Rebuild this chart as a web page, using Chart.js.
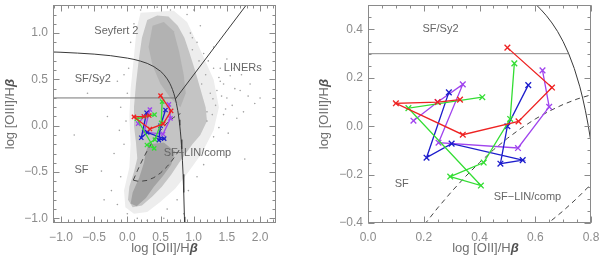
<!DOCTYPE html>
<html><head><meta charset="utf-8">
<script src="https://cdn.jsdelivr.net/npm/chart.js@4.4.0/dist/chart.umd.min.js"></script>
<style>
html,body{margin:0;padding:0;background:#fff;}
#wrap{position:relative;width:600px;height:259px;overflow:hidden;}
canvas{position:absolute;top:0;}
</style></head><body>
<div id="wrap"><canvas id="cL" width="300" height="259" style="left:0"></canvas><canvas id="cR" width="300" height="259" style="left:300px"></canvas></div>
<script>
// ---------- tracks (shared by both panels) ----------
const redX    = [0.33, 0.25, 0.10, 0.34, 0.54, 0.66, 0.50];
const redY    = [0.11, 0.10, 0.095, -0.035, 0.02, 0.16, 0.325];
const greenX  = [0.41, 0.145, 0.405, 0.295, 0.415, 0.51, 0.525];
const greenY  = [0.12, 0.075, -0.245, -0.208, -0.15, 0.03, 0.26];
const blueX   = [0.575, 0.50, 0.475, 0.555, 0.30, 0.21, 0.29];
const blueY   = [0.17, 0.0, -0.155, -0.14, -0.072, -0.13, 0.14];
const purpleX = [0.626, 0.65, 0.538, 0.253, 0.34, 0.25, 0.163];
const purpleY = [0.231, 0.08, -0.09, -0.068, 0.173, 0.10, 0.023];

// ---------- demarcation lines ----------
const agnX = [-1.15,-1.0,-0.75,-0.5,-0.25,0.0,0.1,0.2,0.3,0.4,0.5,0.55,0.6,0.62,0.64,0.66,0.68,0.70,0.72,0.74,0.76,0.77,0.78,0.79,0.80,0.81,0.82,0.83,0.84,0.85,0.86,0.865];
const agnY = [0.797,0.793,0.784,0.773,0.756,0.730,0.716,0.697,0.673,0.638,0.588,0.553,0.506,0.483,0.457,0.427,0.392,0.350,0.300,0.239,0.163,0.117,0.064,0.004,-0.067,-0.150,-0.250,-0.372,-0.525,-0.721,-0.983,-1.15];
const linerX = [0.725, 1.85];
const linerY = [0.289, 1.358];
const sfsyLeftX = [-1.2, 0.72];
const sfsyRightX = [0.0, 0.72];
const sfsyY = [0.3, 0.3];
const compUpX = [0.09,0.15,0.2,0.25,0.3,0.35,0.4,0.45,0.5,0.55,0.6,0.65,0.7,0.75,0.8];
const compUpY = [-0.587,-0.4875,-0.41,-0.3375,-0.27,-0.2075,-0.15,-0.0975,-0.05,-0.0075,0.03,0.0625,0.09,0.1125,0.13];
const compLoX = [0.09,0.15,0.2,0.3,0.4,0.5,0.6,0.65,0.7,0.75,0.8,0.815];
const compLoY = [-0.588,-0.5975,-0.6,-0.59,-0.56,-0.51,-0.44,-0.3975,-0.35,-0.2975,-0.24,-0.222];

// ---------- galaxy cloud (left panel), read as density outlines + sparse dots ----------
const hazeX = [0.2,0.7,0.9,1.08,1.3,1.38,1.3,1.12,0.92,0.72,0.5,0.3,0.1,-0.03,-0.05,0.03,0.05,0.03,0.05,0.1,0.14,0.2];
const hazeY = [1.22,1.24,1.12,0.85,0.5,0.2,-0.05,-0.3,-0.5,-0.68,-0.82,-0.93,-0.95,-0.88,-0.7,-0.45,-0.2,0.1,0.4,0.75,1.05,1.22];
const midX = [0.30,0.45,0.62,0.76,0.86,0.93,1.02,1.10,1.18,1.20,1.10,0.98,0.88,0.78,0.66,0.52,0.38,0.22,0.08,0.01,0.03,0.10,0.15,0.13,0.10,0.10,0.13,0.17,0.22,0.30];
const midY = [1.14,1.19,1.18,1.08,0.95,0.80,0.60,0.40,0.20,0.05,-0.10,-0.20,-0.30,-0.40,-0.53,-0.66,-0.76,-0.86,-0.88,-0.80,-0.66,-0.50,-0.35,-0.18,0.00,0.20,0.45,0.70,0.95,1.14];
const coreUpX = [0.38,0.55,0.70,0.78,0.85,0.88,0.80,0.65,0.50,0.38,0.32,0.38];
const coreUpY = [1.08,1.12,1.02,0.80,0.55,0.35,0.20,0.30,0.45,0.65,0.85,1.08];
const tailX = [0.32,0.55,0.72,0.66,0.54,0.40,0.28,0.14,0.05,0.08,0.18,0.25,0.28,0.32];
const tailY = [-0.20,-0.18,-0.28,-0.42,-0.54,-0.66,-0.78,-0.87,-0.84,-0.72,-0.56,-0.40,-0.28,-0.20];
const dotX = [0.95,1.05,0.98,1.15,1.22,1.3,1.18,1.38,1.45,1.55,1.62,1.72,1.4,1.29,1.5,1.58,1.82,1.92,1.75,1.65,1.45,1.38,1.52,1.3,1.25,1.15,1.05,0.92,1.77,1.1,0.9,1.0,1.3,1.5,1.35,1.2,1.6,1.85,1.7,2.0,
  -0.05,-0.15,0.0,-0.1,0.02,-0.02,-0.12,-0.05,-0.2,-0.39,-0.24,-0.1,0.0,0.15,0.3,0.05,0.1,0.2,0.45,0.65,-0.3,-0.45,-0.6,0.6,0.75,0.85,0.55,-0.15,-0.35,-0.8,
  1.12,1.25,1.33,1.42,1.2,1.28,1.08,0.98,1.4,1.48];
const dotY = [1.0,0.9,0.82,0.78,0.7,0.62,0.55,0.52,0.45,0.54,0.4,0.55,0.48,0.29,0.3,0.22,0.32,0.24,0.15,0.08,0.12,-0.02,-0.08,-0.12,-0.3,-0.42,-0.55,-0.7,-0.36,1.08,1.2,1.25,0.85,0.72,0.38,0.15,0.62,0.45,0.38,0.3,
  0.55,0.48,0.35,0.2,0.62,0.05,-0.05,-0.2,-0.3,-0.49,-0.7,-0.55,-0.95,-1.0,-1.02,0.9,1.1,1.25,1.28,1.25,0.1,0.5,0.35,-0.9,-0.8,-0.95,-1.0,-0.85,-0.8,-0.1,
  0.45,0.35,0.22,0.32,0.05,0.12,0.7,0.95,0.62,0.18];

// ---------- axes ----------
const leftXTicks = [-1.0,-0.5,0.0,0.5,1.0,1.5,2.0];
const leftYTicks = [-1.0,-0.5,0.0,0.5,1.0];
const rightXTicks = [0.0,0.2,0.4,0.6,0.8];
const rightYTicks = [-0.4,-0.2,0.0,0.2,0.4];

Chart.defaults.font.family = "'Liberation Sans', Arial, sans-serif";
Chart.defaults.animation = false;

const zip = (xs, ys) => xs.map((v, i) => ({x: v, y: ys[i]}));
const fmt = v => (v < -1e-9 ? '\u2212' : '') + Math.abs(v).toFixed(1);

function axes(xr, yr, xt, yt, yw) {
  return {
    x: {type:'linear', min:xr[0], max:xr[1], position:'bottom',
      afterBuildTicks: s => { s.ticks = xt.map(v => ({value:v})); },
      afterFit: s => { s.height = 36; s.paddingLeft = 0; s.paddingRight = 0; },
      grid:{display:false, drawTicks:false}, border:{display:false},
      ticks:{autoSkip:false, maxRotation:0, padding:7, color:'#8c8c8c', font:{size:12}, callback: v => fmt(v)}},
    y: {type:'linear', min:yr[0], max:yr[1],
      afterBuildTicks: s => { s.ticks = yt.map(v => ({value:v})); },
      afterFit: s => { s.width = yw; s.paddingTop = 0; s.paddingBottom = 0; },
      grid:{display:false, drawTicks:false}, border:{display:false},
      ticks:{autoSkip:false, padding:5, color:'#8c8c8c', font:{size:12}, callback: v => fmt(v)}}
  };
}

function track(xs, ys, color, r) {
  return {data: zip(xs, ys), showLine:true, borderColor:color, borderWidth:1.3,
    pointStyle:'crossRot', pointRadius:r, pointBorderColor:color, pointBorderWidth:1.3,
    backgroundColor:color, order:1, clip:false};
}
function curve(xs, ys, color, dash) {
  return {data: zip(xs, ys), showLine:true, borderColor:color, borderWidth:1,
    borderDash: dash || [], pointRadius:0, order:3};
}
function poly(xs, ys, color, ord) {
  return {data: zip(xs, ys), showLine:true, fill:'shape', backgroundColor:color,
    borderColor:'rgba(0,0,0,0)', borderWidth:0, pointRadius:0, order:ord};
}

function minorList(lo, hi, step) {
  const out = [];
  for (let v = Math.ceil(lo / step - 1e-6) * step; v <= hi + 1e-9; v += step) out.push(+v.toFixed(4));
  return out;
}

const framePlugin = {
  id: 'frame',
  afterDatasetsDraw(chart, args, o) {
    const {ctx, chartArea: a, scales: {x, y}} = chart;
    ctx.save();
    ctx.strokeStyle = '#8a8a8a'; ctx.lineWidth = 1;
    const L = Math.round(a.left) + 0.5, R = Math.round(a.right) - 0.5;
    const T = Math.round(a.top) + 0.5, B = Math.round(a.bottom) - 0.5;
    ctx.strokeRect(L, T, R - L, B - T);
    ctx.beginPath();
    const tickX = (v, len) => { const p = Math.round(x.getPixelForValue(v)) + 0.5;
      ctx.moveTo(p, B); ctx.lineTo(p, B - len); ctx.moveTo(p, T); ctx.lineTo(p, T + len); };
    const tickY = (v, len) => { const p = Math.round(y.getPixelForValue(v)) + 0.5;
      ctx.moveTo(L, p); ctx.lineTo(L + len, p); ctx.moveTo(R, p); ctx.lineTo(R - len, p); };
    minorList(x.min, x.max, o.xMinor).forEach(v => tickX(v, 3));
    minorList(y.min, y.max, o.yMinor).forEach(v => tickY(v, 3));
    o.xMajor.forEach(v => tickX(v, 6));
    o.yMajor.forEach(v => tickY(v, 6));
    ctx.stroke();
    // region labels
    ctx.fillStyle = '#666666';
    ctx.font = "11px 'Liberation Sans', Arial, sans-serif";
    ctx.textAlign = 'center'; ctx.textBaseline = 'middle';
    o.labels.forEach(l => ctx.fillText(l.t, x.getPixelForValue(l.x), y.getPixelForValue(l.y)));
    // axis titles
    const cx = (a.left + a.right) / 2 + o.xTitleShift;
    drawTitle(ctx, cx, 248, 'log [OII]/H', false);
    drawTitle(ctx, o.yTitleX, (a.top + a.bottom) / 2, 'log [OIII]/H', true);
    ctx.restore();
  }
};
function drawTitle(ctx, cx, cy, main, rot) {
  ctx.save();
  ctx.translate(cx, cy);
  if (rot) ctx.rotate(-Math.PI / 2);
  const f1 = "13px 'Liberation Sans', Arial, sans-serif";
  const f2 = "italic bold 13px 'Liberation Sans', Arial, sans-serif";
  ctx.font = f1; const w1 = ctx.measureText(main).width;
  ctx.font = f2; const w2 = ctx.measureText('\u03B2').width;
  const start = -(w1 + w2) / 2;
  ctx.fillStyle = '#707070'; ctx.textBaseline = 'middle'; ctx.textAlign = 'left';
  ctx.font = f1; ctx.fillText(main, start, 0);
  ctx.font = f2; ctx.fillStyle = '#505050'; ctx.fillText('\u03B2', start + w1, 0);
  ctx.restore();
}

const RED = '#ee2222', GREEN = '#33dd33', BLUE = '#1c1ccc', PURPLE = '#a044ee';
const common = {responsive:false, animation:false, events:[],
  plugins:{legend:{display:false}, tooltip:{enabled:false}}};

new Chart(document.getElementById('cL'), {
  type: 'scatter',
  data: {datasets: [
    poly(hazeX, hazeY, '#ededed', 12),
    poly(midX, midY, '#c4c4c4', 11),
    poly(coreUpX, coreUpY, '#b2b2b2', 10),
    poly(tailX, tailY, '#a2a2a2', 10),
    {data: zip(dotX, dotY), pointRadius:0.8, backgroundColor:'#a0a0a0', borderWidth:0, order:9},
    curve(agnX, agnY, '#3a3a3a'),
    curve(linerX, linerY, '#3a3a3a'),
    curve(sfsyLeftX, sfsyY, '#777777'),
    curve(compUpX, compUpY, '#444444', [5,4]),
    curve(compLoX, compLoY, '#444444', [5,4]),
    track(redX, redY, RED, 3), track(greenX, greenY, GREEN, 3),
    track(blueX, blueY, BLUE, 3), track(purpleX, purpleY, PURPLE, 3)
  ]},
  options: Object.assign({}, common, {
    layout:{padding:{left:0, right:24, top:2, bottom:0}},
    scales: axes([-1.12, 2.24], [-1.05, 1.3], leftXTicks, leftYTicks, 53),
    plugins: Object.assign({}, common.plugins, {frame: {
      xMajor: leftXTicks, yMajor: leftYTicks, xMinor: 0.1, yMinor: 0.1,
      xTitleShift: 0, yTitleX: 10,
      labels: [
        {t:'Seyfert 2', x:-0.165, y:1.02}, {t:'SF/Sy2', x:-0.52, y:0.51},
        {t:'LINERs', x:1.74, y:0.62}, {t:'SF\u2212LIN/comp', x:1.056, y:-0.29},
        {t:'SF', x:-0.69, y:-0.48}
      ]}})
  }),
  plugins: [framePlugin]
});

new Chart(document.getElementById('cR'), {
  type: 'scatter',
  data: {datasets: [
    curve(agnX, agnY, '#3a3a3a'),
    curve(sfsyRightX, sfsyY, '#888888'),
    curve(compUpX, compUpY, '#444444', [5,4]),
    curve(compLoX, compLoY, '#444444', [5,4]),
    track(redX, redY, RED, 4), track(greenX, greenY, GREEN, 4),
    track(blueX, blueY, BLUE, 4), track(purpleX, purpleY, PURPLE, 4)
  ]},
  options: Object.assign({}, common, {
    layout:{padding:{left:0, right:9, top:2, bottom:0}},
    scales: axes([0.0, 0.8], [-0.4, 0.5], rightXTicks, rightYTicks, 68),
    plugins: Object.assign({}, common.plugins, {frame: {
      xMajor: rightXTicks, yMajor: rightYTicks, xMinor: 0.05, yMinor: 0.05,
      xTitleShift: 6, yTitleX: 24,
      labels: [
        {t:'SF/Sy2', x:0.26, y:0.404}, {t:'SF', x:0.121, y:-0.239},
        {t:'SF\u2212LIN/comp', x:0.572, y:-0.294}
      ]}})
  }),
  plugins: [framePlugin]
});
</script>
</body></html>
